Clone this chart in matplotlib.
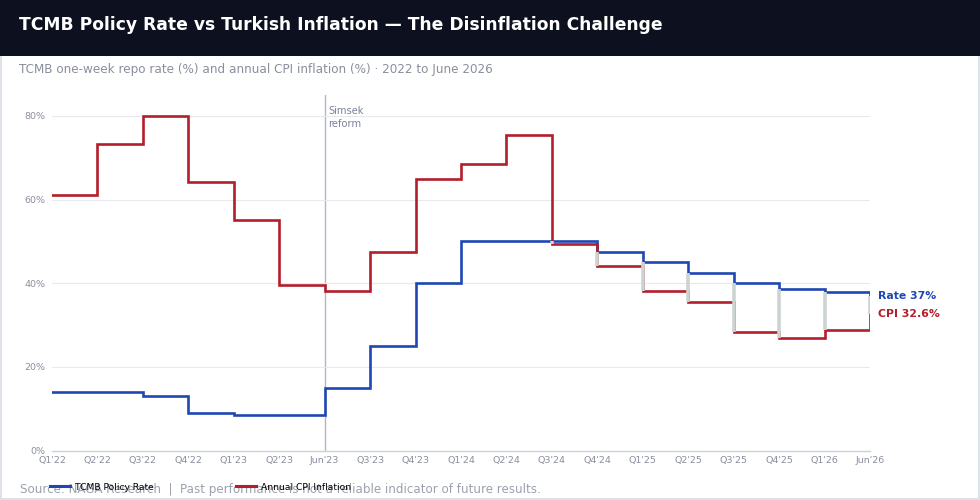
import matplotlib.pyplot as plt
from matplotlib.lines import Line2D
from matplotlib.patches import Rectangle
from matplotlib.ticker import FuncFormatter

# data
periods = ["Q1'22", "Q2'22", "Q3'22", "Q4'22", "Q1'23", "Q2'23", "Jun'23",
           "Q3'23", "Q4'23", "Q1'24", "Q2'24", "Q3'24", "Q4'24", "Q1'25",
           "Q2'25", "Q3'25", "Q4'25", "Q1'26", "Jun'26"]
policy_rate = [14, 14, 13, 9, 8.5, 8.5, 15, 25, 40, 50, 50, 50, 47.5, 45,
               42.5, 40, 38.5, 38, 37]
cpi = [61.1, 73.3, 80.0, 64.3, 55.2, 39.6, 38.2, 47.5, 64.8, 68.5, 75.5,
       49.4, 44.2, 38.1, 35.6, 28.4, 27.0, 28.8, 32.6]
reform_label = "Jun'23"

BLUE = "#1f47b3"
RED = "#b41d2a"
SPREAD = "#cbd4d1"
MUTED = "#8a8f9d"

W, H = 980, 500
fig = plt.figure(figsize=(W / 100, H / 100), dpi=100)
fig.patch.set_facecolor("white")
fig.patch.set_edgecolor("#dde1e8")
fig.patch.set_linewidth(1.5)

# header band
fig.patches.append(Rectangle((0, 1 - 56 / H), 1, 56 / H, transform=fig.transFigure,
                             facecolor="#0d111f", edgecolor="none", zorder=0))
fig.text(19 / W, 1 - 25 / H, "TCMB Policy Rate vs Turkish Inflation \u2014 The Disinflation Challenge",
         color="white", fontsize=12.3, fontweight="bold", va="center", ha="left")
fig.text(19 / W, 1 - 70 / H,
         "TCMB one-week repo rate (%) and annual CPI inflation (%) \u00b7 2022 to June 2026",
         color=MUTED, fontsize=8.65, va="center", ha="left")

ax = fig.add_axes([52 / W, 1 - 450.5 / H, (870 - 52) / W, (450.5 - 95) / H])
x = list(range(len(periods)))

ax.step(x, policy_rate, where="post", color=BLUE, lw=1.9, zorder=3, solid_joinstyle="miter")
ax.step(x, cpi, where="post", color=RED, lw=1.9, zorder=3, solid_joinstyle="miter")

# spread where the policy rate sits above inflation
for i in x:
    if policy_rate[i] > cpi[i]:
        ax.vlines(i, cpi[i], policy_rate[i], color=SPREAD, lw=2.6, zorder=4)

ri = periods.index(reform_label)
ax.axvline(ri, color="#b3b6c8", lw=1.0, zorder=1)
ax.annotate("Simsek\nreform", xy=(ri, 85), xytext=(2.5, -8), textcoords="offset points",
            fontsize=7.1, color="#7b8099", va="top", ha="left", linespacing=1.35)

ax.annotate(f"Rate {policy_rate[-1]:g}%", xy=(x[-1], policy_rate[-1]), xytext=(6, 0),
            textcoords="offset points", color=BLUE, fontsize=7.8, fontweight="bold",
            va="center", ha="left", annotation_clip=False)
ax.annotate(f"CPI {cpi[-1]:g}%", xy=(x[-1], cpi[-1]), xytext=(6, 0),
            textcoords="offset points", color=RED, fontsize=7.8, fontweight="bold",
            va="center", ha="left", annotation_clip=False)

ax.set_xlim(0, len(periods) - 1)
ax.set_ylim(0, 85)
ax.set_yticks([0, 20, 40, 60, 80])
ax.yaxis.set_major_formatter(FuncFormatter(lambda v, _: f"{v:.0f}%"))
ax.set_xticks(x)
ax.set_xticklabels(periods)
ax.tick_params(axis="both", length=0, labelsize=6.8, labelcolor=MUTED)
ax.tick_params(axis="y", pad=5)
ax.tick_params(axis="x", pad=4)
ax.grid(axis="y", color="#e8e9ef", lw=0.8, zorder=0)
for side in ["top", "right", "left"]:
    ax.spines[side].set_visible(False)
ax.spines["bottom"].set_color("#cdd1d8")
ax.spines["bottom"].set_linewidth(1.0)

fig.text(20 / W, 1 - 489 / H,
         "Source: NAGA Research  |  Past performance is not a reliable indicator of future results.",
         color="#9ba1ad", fontsize=8.6, va="center", ha="left")

handles = [Line2D([], [], color=BLUE, lw=2.2), Line2D([], [], color=RED, lw=2.2)]
fig.legend(handles, ["TCMB Policy Rate", "Annual CPI Inflation"], loc="center left",
           bbox_to_anchor=(42 / W, 1 - 487 / H), ncol=2, frameon=False, fontsize=6.6,
           handlelength=2.2, handletextpad=0.55, columnspacing=8.95)

fig.savefig("out.png", dpi=100, facecolor=fig.get_facecolor(), edgecolor=fig.get_edgecolor())
